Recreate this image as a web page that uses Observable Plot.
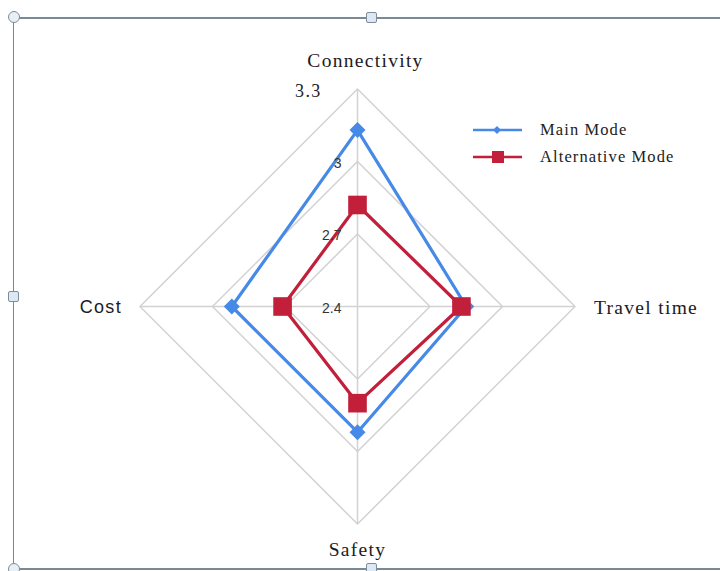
<!DOCTYPE html>
<html><head><meta charset="utf-8">
<script src="https://cdn.jsdelivr.net/npm/d3@7"></script>
<script src="https://cdn.jsdelivr.net/npm/@observablehq/plot@0.6"></script>
<style>
body{margin:0;background:#fff;}
#wrap{position:relative;width:720px;height:571px;overflow:hidden;background:#fff;}
#chart svg{position:absolute;left:0;top:0;}
.lbl text{letter-spacing:1.3px;}
.fr{position:absolute;background:#7a8996;}
.hc{position:absolute;width:12px;height:12px;border:1px solid #7d8d9c;border-radius:50%;background:#e8f0f6;box-sizing:border-box;}
.hs{position:absolute;width:11px;height:11px;border:1px solid #7d8d9c;border-radius:2px;background:#dce9f4;box-sizing:border-box;}
#legend{position:absolute;left:472px;top:116px;font-family:"Liberation Serif",serif;font-size:16.5px;color:#222;letter-spacing:1.1px;}
#legend .row{display:flex;align-items:center;height:27px;}
#legend svg{margin-right:17px;}
</style></head><body>
<div id="wrap">
  <div id="chart"></div>
  <div class="fr" style="left:14px;top:17px;width:710px;height:1.5px;"></div>
  <div class="fr" style="left:13px;top:17px;width:1px;height:560px;"></div>
  <div class="fr" style="left:14px;top:568px;width:710px;height:1.5px;"></div>
  <div class="hc" style="left:8px;top:11px;"></div>
  <div class="hs" style="left:366px;top:12px;"></div>
  <div class="hs" style="left:8px;top:291px;"></div>
  <div class="hc" style="left:8px;top:563px;"></div>
  <div class="hs" style="left:366px;top:563px;"></div>
  <div id="legend"></div>
</div>
<script>
const axes = ["Connectivity", "Travel time", "Safety", "Cost"];
const mainMode = [3.13, 2.85, 2.92, 2.92];
const altMode = [2.82, 2.83, 2.80, 2.71];
const seriesNames = ["Main Mode", "Alternative Mode"];
const seriesColors = ["#4689e6", "#c21f3b"];
const ticks = [2.4, 2.7, 3.0, 3.3];
const tickLabels = ["2.4", "2.7", "3", "3.3"];

const base = ticks[0];
const ang = i => i * Math.PI / 2;
const px = (v, i) => (v - base) * Math.sin(ang(i));
const py = (v, i) => (v - base) * Math.cos(ang(i));

const rings = [];
ticks.slice(1).forEach(t => {
  for (let i = 0; i <= axes.length; i++) {
    const k = i % axes.length;
    rings.push({t, x: px(t, k), y: py(t, k)});
  }
});
const outer = ticks[ticks.length - 1];
const spokes = axes.map((a, i) => ({a, x: px(outer, i), y: py(outer, i)}));

function loop(vals, name) {
  const pts = vals.map((v, i) => ({name, axis: axes[i], x: px(v, i), y: py(v, i)}));
  return pts.concat([pts[0]]);
}
const mainPts = loop(mainMode, seriesNames[0]);
const altPts = loop(altMode, seriesNames[1]);

const W = 720, H = 571, cx = 357, cy = 306, ppu = 241.7;
const xDom = [-cx / ppu, (W - cx) / ppu];
const yDom = [-(H - cy) / ppu, cy / ppu];

const squareDiamond = {
  draw(ctx, size) {
    const s = Math.sqrt(size) * 0.75;
    ctx.moveTo(0, -s); ctx.lineTo(s, 0); ctx.lineTo(0, s); ctx.lineTo(-s, 0); ctx.closePath();
  }
};

const labelDefs = [
  {anchor: "middle", dx: 8, dy: -28, font: "Liberation Serif"},
  {anchor: "start", dx: 19, dy: 1, font: "Liberation Serif"},
  {anchor: "middle", dx: 0, dy: 26, font: "Liberation Serif"},
  {anchor: "end", dx: -18, dy: 1, font: "Liberation Sans"}
];
const labelMarks = axes.map((a, i) => Plot.text([{a, x: px(outer, i), y: py(outer, i)}], {
  x: "x", y: "y", text: "a", textAnchor: labelDefs[i].anchor, dx: labelDefs[i].dx, dy: labelDefs[i].dy,
  fontFamily: labelDefs[i].font, fontSize: i === 3 ? 18 : 19.5, fill: "#1e1a22", className: "lbl"
}));

const tickData = ticks.map((t, i) => ({t, label: tickLabels[i], x: 0, y: t - base}));

const chart = Plot.plot({
  width: W, height: H, margin: 0,
  x: {domain: xDom, axis: null},
  y: {domain: yDom, axis: null},
  style: {background: "transparent", overflow: "visible"},
  marks: [
    Plot.line(rings, {x: "x", y: "y", z: "t", stroke: "#d2d2d2", strokeWidth: 1.5}),
    Plot.link(spokes, {x1: 0, y1: 0, x2: "x", y2: "y", stroke: "#d2d2d2", strokeWidth: 1.5}),
    Plot.line(altPts, {x: "x", y: "y", stroke: seriesColors[1], strokeWidth: 3.2}),
    Plot.line(mainPts, {x: "x", y: "y", stroke: seriesColors[0], strokeWidth: 3.2}),
    Plot.dot(mainPts.slice(0, -1), {x: "x", y: "y", fill: seriesColors[0], r: 6, symbol: squareDiamond}),
    Plot.dot(altPts.slice(0, -1), {x: "x", y: "y", fill: seriesColors[1], r: 10.5, symbol: "square"}),
    Plot.text(tickData.filter(d => d.t !== outer), {x: "x", y: "y", text: "label", textAnchor: "end", dx: -16, dy: 2,
      fontFamily: "Liberation Sans", fontSize: 14, fill: "#333"}),
    Plot.text(tickData.filter(d => d.t === outer), {x: "x", y: "y", text: "label", textAnchor: "end", dx: -36, dy: 2,
      fontFamily: "Liberation Serif", fontSize: 18, fill: "#222", className: "lbl"}),
    ...labelMarks
  ]
});
document.getElementById("chart").appendChild(chart);

const leg = document.getElementById("legend");
seriesNames.forEach((n, i) => {
  const row = document.createElement("div");
  row.className = "row";
  const mk = i === 0
    ? `<path d="M25 -4 L29 0 L25 4 L21 0 Z" fill="${seriesColors[0]}"/>`
    : `<rect x="20" y="-6" width="12" height="12" fill="${seriesColors[1]}"/>`;
  row.innerHTML = `<svg width="51" height="16" viewBox="0 -8 51 16"><line x1="1" x2="50" y1="0" y2="0" stroke="${seriesColors[i]}" stroke-width="2.5"/>${mk}</svg><span>${n}</span>`;
  leg.appendChild(row);
});
</script>
</body></html>
